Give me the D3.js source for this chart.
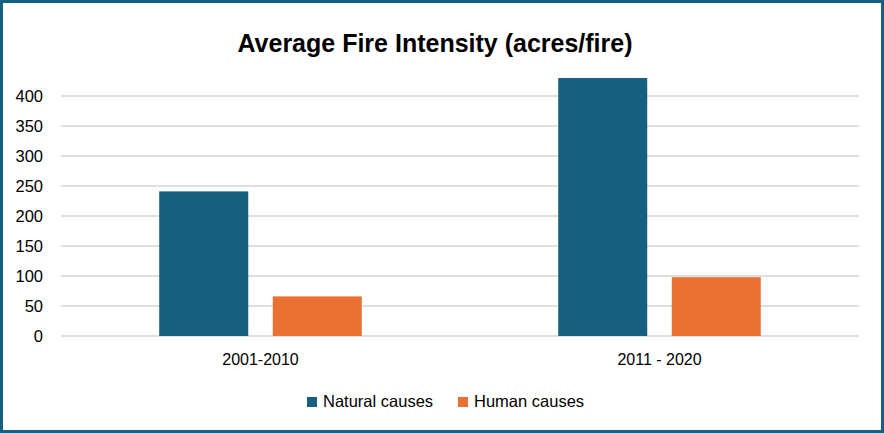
<!DOCTYPE html>
<html>
<head>
<meta charset="utf-8">
<script src="https://cdn.jsdelivr.net/npm/d3@7"></script>
<style>
  body { margin: 0; background: #fff; }
  text { font-family: "Liberation Sans", Arial, sans-serif; fill: #000; }
</style>
</head>
<body>
<script>
// Data
var periods = ["2001-2010", "2011 - 2020"];
var seriesNames = ["Natural causes", "Human causes"];
var naturalValues = [241, 430];
var humanValues = [66, 98];
var yTicks = [0, 50, 100, 150, 200, 250, 300, 350, 400];
var colors = ["#175f80", "#e97132"];

var W = 884, H = 433;
var margin = {top: 96, right: 25, bottom: 97, left: 61};
var width = W - margin.left - margin.right,
    height = H - margin.top - margin.bottom;

var svg = d3.select("body").append("svg")
    .attr("width", W)
    .attr("height", H);

// outer border
svg.append("rect")
   .attr("x", 1.5).attr("y", 1.5)
   .attr("width", W - 3).attr("height", H - 3)
   .attr("fill", "#fff")
   .attr("stroke", colors[0])
   .attr("stroke-width", 3);

svg.append("text")
   .attr("x", 435)
   .attr("y", 52)
   .attr("text-anchor", "middle")
   .style("font-family", "'Liberation Sans Narrow', 'Liberation Sans', sans-serif")
   .style("font-weight", "bold")
   .style("font-size", "25px")
   .text("Average Fire Intensity (acres/fire)");

var g = svg.append("g")
    .attr("transform", "translate(" + margin.left + "," + margin.top + ")");

var xScale = d3.scaleBand().domain(periods).range([0, width]).padding(0);
var xInner = d3.scaleBand().domain(seriesNames)
    .range([0, xScale.bandwidth()])
    .paddingInner(0.216)
    .paddingOuter(0.865);
var yScale = d3.scaleLinear().domain([0, 400]).range([height, 0]);

// gridlines
g.append("g")
 .selectAll("line")
 .data(yTicks)
 .enter().append("line")
 .attr("x1", 0).attr("x2", width)
 .attr("y1", d => yScale(d)).attr("y2", d => yScale(d))
 .attr("stroke", "#d4d4d4")
 .attr("stroke-width", 1.5);

// y axis labels
var yAxis = d3.axisLeft(yScale).tickValues(yTicks).tickSize(0).tickPadding(18);
g.append("g")
 .call(yAxis)
 .call(a => a.select(".domain").remove())
 .selectAll("text")
 .style("font-family", "'Liberation Sans', Arial, sans-serif")
 .style("font-size", "16.5px")
 .attr("fill", "#000");

// bars
var rows = periods.map((p, i) => ({
  period: p,
  values: [naturalValues[i], humanValues[i]]
}));

var groups = g.selectAll(".period")
    .data(rows)
    .enter().append("g")
    .attr("class", "period")
    .attr("transform", d => "translate(" + xScale(d.period) + ",0)");

groups.selectAll("rect")
      .data(d => d.values.map((v, j) => ({name: seriesNames[j], value: v, j: j})))
      .enter().append("rect")
      .attr("x", d => xInner(d.name))
      .attr("width", xInner.bandwidth())
      .attr("y", d => yScale(d.value))
      .attr("height", d => height - yScale(d.value))
      .attr("fill", d => colors[d.j]);

// x axis labels
var xAxis = d3.axisBottom(xScale).tickSize(0).tickPadding(18);
g.append("g")
 .attr("transform", "translate(0," + height + ")")
 .call(xAxis)
 .call(a => a.select(".domain").remove())
 .selectAll("text")
 .style("font-family", "'Liberation Sans', Arial, sans-serif")
 .style("font-size", "16px")
 .attr("fill", "#000");

// legend
var legendX = [307, 458];
var legend = svg.selectAll(".legend")
    .data(seriesNames)
    .enter().append("g")
    .attr("class", "legend")
    .attr("transform", (d, i) => "translate(" + legendX[i] + ",397)");

legend.append("rect")
      .attr("width", 10).attr("height", 10)
      .attr("fill", (d, i) => colors[i]);

legend.append("text")
      .attr("x", 16)
      .attr("y", 10)
      .style("font-size", "16.5px")
      .text(d => d);
</script>
</body>
</html>
